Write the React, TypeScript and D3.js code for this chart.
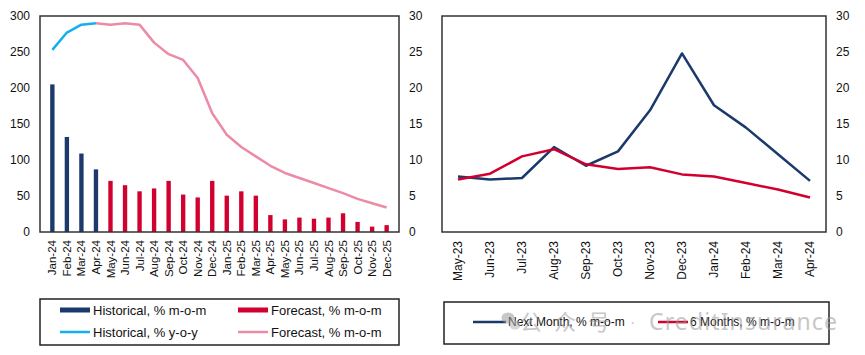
import React from "react";
import * as d3 from "d3";

const leftMonths = ["Jan-24","Feb-24","Mar-24","Apr-24","May-24","Jun-24","Jul-24","Aug-24","Sep-24","Oct-24","Nov-24","Dec-24","Jan-25","Feb-25","Mar-25","Apr-25","May-25","Jun-25","Jul-25","Aug-25","Sep-25","Oct-25","Nov-25","Dec-25"];
const histMoM = [205, 132, 109, 87];
const fcstMoM = [71, 65, 56.5, 60.5, 71, 52, 48, 71, 50.5, 56.5, 50.5, 23.5, 17.5, 20, 18.5, 20, 26, 14, 7.5, 9.5];
const histYoY = [25.3, 27.7, 28.8, 29.0];
const fcstLine = [29.0, 28.8, 29.0, 28.8, 26.3, 24.7, 23.9, 21.4, 16.5, 13.5, 11.8, 10.5, 9.2, 8.2, 7.5, 6.8, 6.1, 5.4, 4.6, 4.0, 3.4];
const leftTicks = [0, 50, 100, 150, 200, 250, 300];
const secTicks = [0, 5, 10, 15, 20, 25, 30];

const rightMonths = ["May-23","Jun-23","Jul-23","Aug-23","Sep-23","Oct-23","Nov-23","Dec-23","Jan-24","Feb-24","Mar-24","Apr-24"];
const nextMonth = [7.7, 7.3, 7.5, 11.8, 9.2, 11.2, 16.9, 24.8, 17.6, 14.5, 10.8, 7.1];
const sixMonths = [7.3, 8.1, 10.5, 11.5, 9.4, 8.75, 9.0, 8.0, 7.7, 6.8, 5.9, 4.8];

const NAVY = "#1B3A6B";
const RED = "#D2002E";
const CYAN = "#14B0EC";
const PINK = "#EC8BA6";
const FONT = "Liberation Sans, Arial, sans-serif";
const TXT = "#111";

export default function App() {
  const top = 16, bottom = 232;
  const xL = d3.scaleBand<string>().domain(leftMonths).range([40, 399]).padding(0.7);
  const xLc = (m: string) => (xL(m) as number) + xL.bandwidth() / 2;
  const yL = d3.scaleLinear().domain([0, 300]).range([bottom, top]);
  const yS = d3.scaleLinear().domain([0, 30]).range([bottom, top]);

  const xR = d3.scalePoint<string>().domain(rightMonths).range([442, 826]).padding(0.5);
  const yR = d3.scaleLinear().domain([0, 30]).range([bottom, top]);

  const histBars = histMoM.map((v, i) => ({ m: leftMonths[i], v }));
  const fcstBars = fcstMoM.map((v, i) => ({ m: leftMonths[i + 4], v }));
  const lineGen = d3.line<{ m: string; v: number }>().x(d => xLc(d.m)).y(d => yS(d.v));
  const histLine = histYoY.map((v, i) => ({ m: leftMonths[i], v }));
  const fcstLinePts = fcstLine.map((v, i) => ({ m: leftMonths[i + 3], v }));

  const rLine = d3.line<{ m: string; v: number }>().x(d => xR(d.m) as number).y(d => yR(d.v));
  const nmPts = nextMonth.map((v, i) => ({ m: rightMonths[i], v }));
  const smPts = sixMonths.map((v, i) => ({ m: rightMonths[i], v }));

  return (
    <svg width={865} height={355} style={{ position: "absolute", left: 0, top: 0, background: "#fff" }} fontFamily={FONT}>
      <rect x={0} y={0} width={865} height={355} fill="#fff" />
      {/* Left chart */}
      {histBars.map(d => (
        <rect key={"h" + d.m} x={xL(d.m)} y={yL(d.v)} width={xL.bandwidth()} height={bottom - yL(d.v)} fill={NAVY} />
      ))}
      {fcstBars.map(d => (
        <rect key={"f" + d.m} x={xL(d.m)} y={yL(d.v)} width={xL.bandwidth()} height={bottom - yL(d.v)} fill={RED} />
      ))}
      <path d={lineGen(fcstLinePts) || ""} fill="none" stroke={PINK} strokeWidth={2.5} strokeLinejoin="round" />
      <path d={lineGen(histLine) || ""} fill="none" stroke={CYAN} strokeWidth={2.5} strokeLinejoin="round" />
      <rect x={40} y={top} width={359} height={bottom - top} fill="none" stroke="#333" strokeWidth={1.5} />
      {leftTicks.map(t => (
        <text key={"lt" + t} x={30} y={yL(t)} dy="0.35em" textAnchor="end" fontSize={12} fill={TXT}>{t}</text>
      ))}
      {secTicks.map(t => (
        <text key={"st" + t} x={409} y={yS(t)} dy="0.35em" textAnchor="start" fontSize={12} fill={TXT}>{t}</text>
      ))}
      {leftMonths.map(m => (
        <text key={"lm" + m} transform={`translate(${xLc(m)},240) rotate(-90)`} dy="0.35em" textAnchor="end" fontSize={11.5} fill={TXT}>{m}</text>
      ))}
      {/* Left legend */}
      <rect x={40} y={299} width={359} height={46} fill="none" stroke="#222" strokeWidth={1.5} />
      <rect x={60} y={307.5} width={30} height={5} fill={NAVY} />
      <text x={93} y={310} dy="0.35em" fontSize={13} fill={TXT}>Historical, % m-o-m</text>
      <rect x={238} y={307.5} width={30} height={5} fill={RED} />
      <text x={271} y={310} dy="0.35em" fontSize={13} fill={TXT}>Forecast, % m-o-m</text>
      <line x1={60} x2={90} y1={332} y2={332} stroke={CYAN} strokeWidth={2.5} />
      <text x={93} y={332} dy="0.35em" fontSize={13} fill={TXT}>Historical, % y-o-y</text>
      <line x1={238} x2={268} y1={332} y2={332} stroke={PINK} strokeWidth={2.5} />
      <text x={271} y={332} dy="0.35em" fontSize={13} fill={TXT}>Forecast, % m-o-m</text>

      {/* Right chart */}
      <path d={rLine(nmPts) || ""} fill="none" stroke={NAVY} strokeWidth={2.5} strokeLinejoin="round" />
      <path d={rLine(smPts) || ""} fill="none" stroke={RED} strokeWidth={2.5} strokeLinejoin="round" />
      <rect x={442} y={top} width={384} height={bottom - top} fill="none" stroke="#333" strokeWidth={1.5} />
      {secTicks.map(t => (
        <text key={"rt" + t} x={836} y={yR(t)} dy="0.35em" textAnchor="start" fontSize={12} fill={TXT}>{t}</text>
      ))}
      {rightMonths.map(m => (
        <text key={"rm" + m} transform={`translate(${xR(m)},241) rotate(-90)`} dy="0.35em" textAnchor="end" fontSize={12} fill={TXT}>{m}</text>
      ))}
      {/* Right legend */}
      <rect x={444} y={302} width={385} height={42} fill="none" stroke="#222" strokeWidth={1.5} />
      <line x1={473} x2={506} y1={322} y2={322} stroke={NAVY} strokeWidth={2.5} />
      <text x={508} y={322} dy="0.35em" fontSize={12} fill={TXT}>Next Month, % m-o-m</text>
      <line x1={658} x2={688} y1={322} y2={322} stroke={RED} strokeWidth={2.5} />
      <text x={690} y={322} dy="0.35em" fontSize={12} fill={TXT}>6 Months, % m-o-m</text>

      {/* Watermark */}
      <g opacity={0.55} fill="#9a9a9a">
        <ellipse cx={508} cy={318} rx={6.5} ry={5.5} />
        <ellipse cx={515} cy={325} rx={5.5} ry={4.5} fill="#b5b5b5" />
        <text x={520} y={322} dy="0.35em" fontSize={22} fontFamily="Noto Sans CJK SC" textLength={90}>公众号</text>
        <text x={630} y={322} dy="0.35em" fontSize={16}>·</text>
        <text x={649} y={322} dy="0.35em" fontSize={23} fontFamily="Noto Sans, Arial, sans-serif" textLength={188}>CreditInsurance</text>
      </g>
    </svg>
  );
}
